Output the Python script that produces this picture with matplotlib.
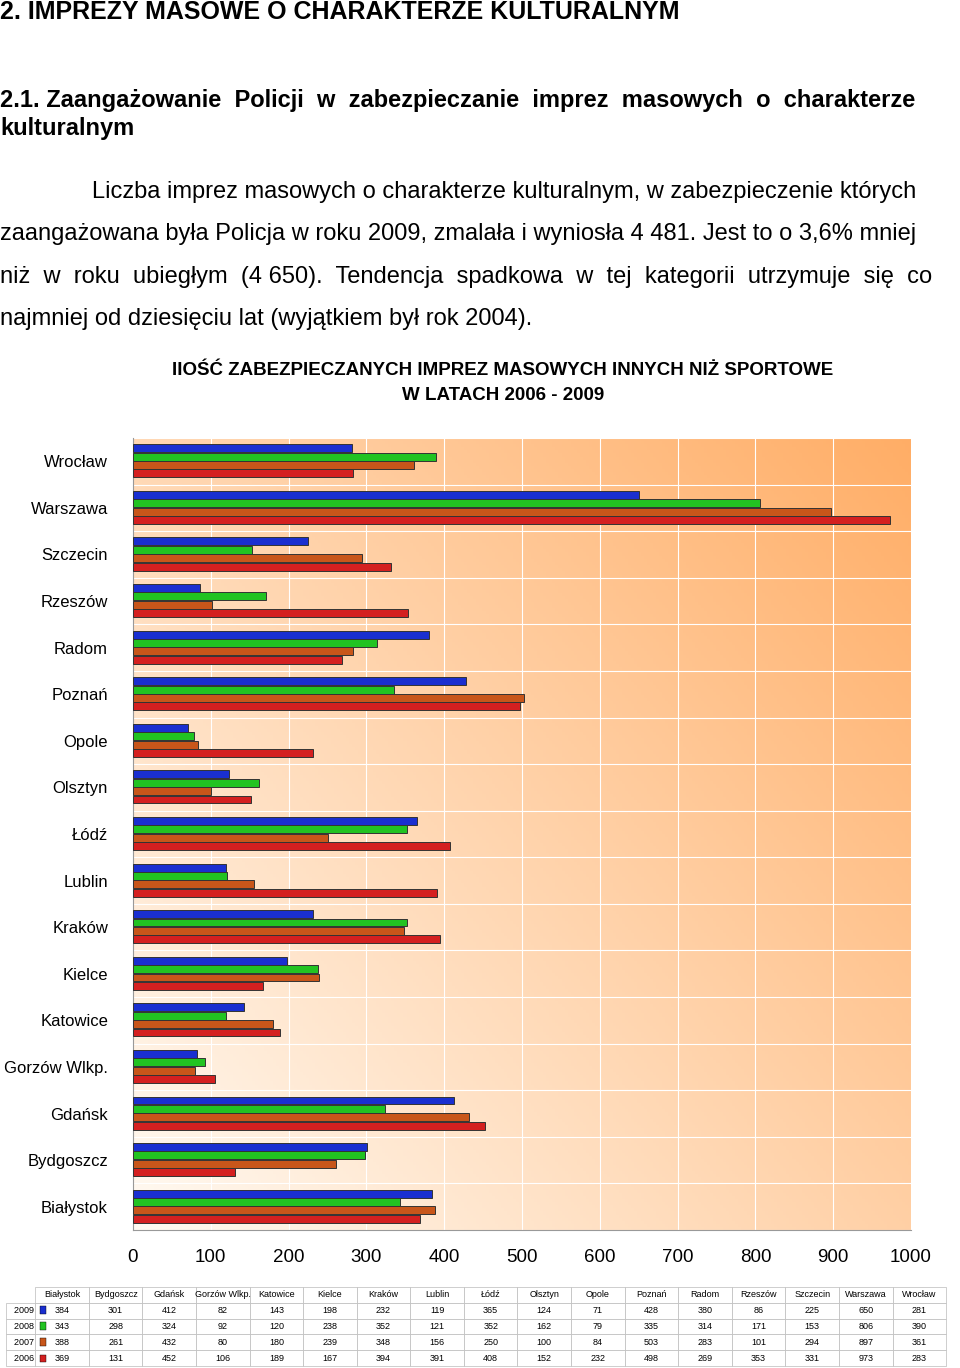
import numpy as np
import matplotlib.pyplot as plt

plt.rcParams['font.family'] = 'Liberation Sans'

cities = ['Białystok', 'Bydgoszcz', 'Gdańsk', 'Gorzów Wlkp.', 'Katowice', 'Kielce', 'Kraków',
          'Lublin', 'Łódź', 'Olsztyn', 'Opole', 'Poznań', 'Radom', 'Rzeszów', 'Szczecin',
          'Warszawa', 'Wrocław']
years = ['2009', '2008', '2007', '2006']
v2009 = [384, 301, 412, 82, 143, 198, 232, 119, 365, 124, 71, 428, 380, 86, 225, 650, 281]
v2008 = [343, 298, 324, 92, 120, 238, 352, 121, 352, 162, 79, 335, 314, 171, 153, 806, 390]
v2007 = [388, 261, 432, 80, 180, 239, 348, 156, 250, 100, 84, 503, 283, 101, 294, 897, 361]
v2006 = [369, 131, 452, 106, 189, 167, 394, 391, 408, 152, 232, 498, 269, 353, 331, 973, 283]
series = [v2009, v2008, v2007, v2006]
colors = ['#1a2fd0', '#22c322', '#c8561a', '#d42020']

fig = plt.figure(figsize=(9.6, 13.68), dpi=100)
W, H = 960, 1368

def ft(x, y, s, **kw):
    fig.text(x / W, 1 - y / H, s, va='center', **kw)

ft(0, 12, '2. IMPREZY MASOWE O CHARAKTERZE KULTURALNYM', fontsize=18, fontweight='bold')
ft(0, 101, '2.1. Zaangażowanie  Policji  w  zabezpieczanie  imprez  masowych  o  charakterze',
   fontsize=17, fontweight='bold')
ft(0, 129, 'kulturalnym', fontsize=17, fontweight='bold')
ft(92, 192, 'Liczba imprez masowych o charakterze kulturalnym, w zabezpieczenie których', fontsize=17)
ft(0, 234, 'zaangażowana była Policja w roku 2009, zmalała i wyniosła 4 481. Jest to o 3,6% mniej', fontsize=17)
ft(0, 277, 'niż  w  roku  ubiegłym  (4 650).  Tendencja  spadkowa  w  tej  kategorii  utrzymuje  się  co', fontsize=17)
ft(0, 319, 'najmniej od dziesięciu lat (wyjątkiem był rok 2004).', fontsize=17)
ft(503, 371, 'IIOŚĆ ZABEZPIECZANYCH IMPREZ MASOWYCH INNYCH NIŻ SPORTOWE', fontsize=13.5,
   fontweight='bold', ha='center')
ft(503, 396, 'W LATACH 2006 - 2009', fontsize=13.5, fontweight='bold', ha='center')

ax = fig.add_axes([133 / W, 1 - 1230 / H, (911 - 133) / W, (1230 - 438) / H])
n = len(cities)
ax.set_xlim(0, 1000)
ax.set_ylim(-0.5, n - 0.5)
grad = np.linspace(0, 1, 256)
gx, gy = np.meshgrid(grad, grad)
g = np.clip(0.55 * gx + 0.45 * (1 - gy), 0, 1)
img = np.zeros((256, 256, 3))
img[..., 0] = 1.0
img[..., 1] = 0.98 - 0.30 * g
img[..., 2] = 0.95 - 0.55 * g
ax.imshow(img, extent=[0, 1000, -0.5, n - 0.5], aspect='auto', zorder=0, origin='upper')
for x in range(100, 1000, 100):
    ax.axvline(x, color='white', lw=0.8, zorder=1)
for y in np.arange(-0.5, n, 1):
    ax.axhline(y, color='white', lw=0.8, zorder=1)

bh = 0.17
offs = [0.28, 0.1, -0.08, -0.26]
ypos = np.arange(n)
for vals, col, off in zip(series, colors, offs):
    ax.barh(ypos + off, vals, height=bh, color=col, edgecolor='#333333', lw=0.7, zorder=3)

ax.set_yticks(ypos)
ax.set_yticklabels(cities, fontsize=12)
ax.set_xticks(range(0, 1001, 100))
ax.tick_params(axis='x', labelsize=13.5, length=0, pad=14)
ax.tick_params(axis='y', length=0, pad=18)
for s in ['top', 'right']:
    ax.spines[s].set_visible(False)
ax.spines['left'].set_color('#999999')
ax.spines['bottom'].set_color('#999999')

tax = fig.add_axes([8 / W, 1 - 1366 / H, (947 - 8) / W, (1366 - 1287) / H])
tax.axis('off')
cell = [[str(v) for v in s] for s in series]
tbl = tax.table(cellText=cell, rowLabels=['  ' + y for y in years], colLabels=cities,
                loc='center', cellLoc='center', bbox=[0.03, 0, 0.97, 1])
tbl.auto_set_font_size(False)
tbl.set_fontsize(6.5)
for (r, c), cl in tbl.get_celld().items():
    cl.set_edgecolor('#bbbbbb')
    cl.set_linewidth(0.5)
for i, col in enumerate(colors):
    tax.add_patch(plt.Rectangle((0.034, 0.66 - i * 0.205), 0.006, 0.1, color=col,
                                transform=tax.transAxes, zorder=5, ec='black', lw=0.3))

fig.savefig('out.png', dpi=100)
